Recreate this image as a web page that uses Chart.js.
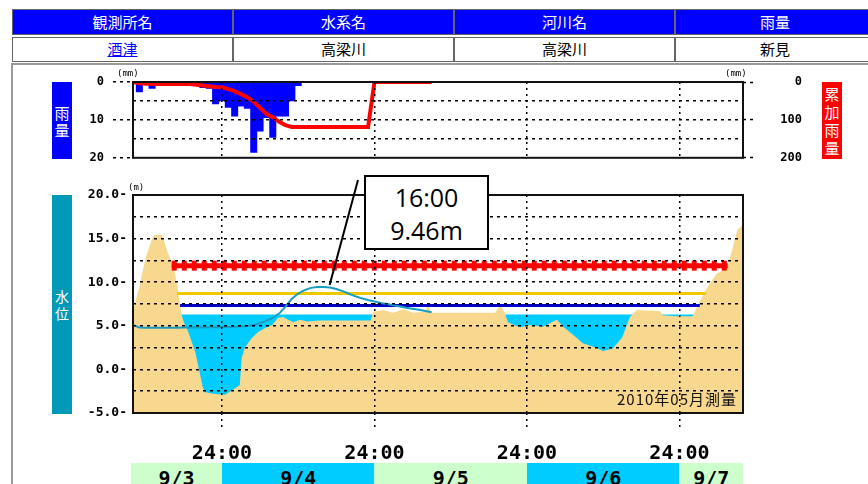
<!DOCTYPE html>
<html lang="ja"><head><meta charset="utf-8">
<script src="https://cdn.jsdelivr.net/npm/chart.js@4.4.1/dist/chart.umd.min.js"></script>
<style>
html,body{margin:0;padding:0;background:#fff}
body{position:relative;width:868px;height:484px;overflow:hidden;font-family:"Noto Sans CJK JP","Noto Sans",sans-serif}
.a{position:absolute;box-sizing:border-box}
.hc{background:#0000ff;color:#fff;border:1px solid #666;font-size:15px;text-align:center;line-height:23px}
.vc{background:#fff;color:#000;border:1px solid #666;font-size:15px;text-align:center;line-height:22px}
.vlab{color:#fff;display:flex;flex-direction:column;align-items:center;justify-content:center;line-height:17px}
canvas{position:absolute;left:0}
.date{position:absolute;top:463px;height:30px;font:bold 20px "DejaVu Sans Mono",monospace;text-align:center;padding-top:3px;box-sizing:border-box;color:#000}
.unit{position:absolute;font:9px "DejaVu Sans Mono",monospace;color:#000}
</style></head><body>
<div class="a" style="left:11px;top:63px;width:880px;height:440px;border-left:2px solid #999;border-top:2px solid #999"></div>
<div class="a hc" style="left:12px;top:9px;width:221px;height:26px">観測所名</div>
<div class="a hc" style="left:233px;top:9px;width:221px;height:26px">水系名</div>
<div class="a hc" style="left:454px;top:9px;width:221px;height:26px">河川名</div>
<div class="a hc" style="left:675px;top:9px;width:200px;height:26px">雨量</div>
<div class="a vc" style="left:12px;top:37px;width:221px;height:25px"><a href="#" style="color:#0000ff;text-decoration:underline">酒津</a></div>
<div class="a vc" style="left:233px;top:37px;width:221px;height:25px">高梁川</div>
<div class="a vc" style="left:454px;top:37px;width:221px;height:25px">高梁川</div>
<div class="a vc" style="left:675px;top:37px;width:200px;height:25px">新見</div>

<div class="a vlab" style="left:52px;top:82px;width:20px;height:77px;background:#0000ff;font-size:15px">雨<br>量</div>
<div class="a vlab" style="left:52px;top:195px;width:20px;height:219px;background:#0099b8;font-size:14px">水<br>位</div>
<div class="a vlab" style="left:822px;top:82px;width:20px;height:77px;background:#ff0000;font-size:15px;line-height:18px">累<br>加<br>雨<br>量</div>

<canvas id="rain" width="868" height="111" style="top:64px"></canvas>
<canvas id="water" width="868" height="318" style="top:166px"></canvas>

<div class="unit" style="left:117px;top:68px">(mm)</div>
<div class="unit" style="left:725px;top:68px">(mm)</div>
<div class="unit" style="left:128px;top:182px">(m)</div>
<div class="a" style="left:560px;top:390px;width:177px;text-align:right;font-size:15px;letter-spacing:1px;color:#111;line-height:18px">2010年05月測量</div>
<div class="a" style="left:364px;top:175px;width:125px;height:75px;border:2px solid #000;background:#fff;text-align:center;font-family:'Open Sans',sans-serif;font-size:25px;line-height:33px;padding-top:4px">16:00<br>9.46m</div>
<div id="dates"></div>

<script>
// ---- data ----
const dayTicks = [14, 38, 62, 86];           // 24:00 positions (hours from 9/3 10:00)
const dayTickLabel = '24:00';
const dateLabels = ['9/3', '9/4', '9/5', '9/6', '9/7'];
const dateBounds = [0, 14, 38, 62, 86, 96];
const dateColors = ['#ccffcc', '#00ccff', '#ccffcc', '#00ccff', '#ccffcc'];

const rainHours  = [1, 3, 10, 11, 12, 13, 14, 15, 16, 17, 18, 19, 20, 21, 22, 23, 24, 25, 26];
const rainValues = [2.6, 1.7, 0.5, 1.5, 1.7, 5.8, 5.0, 6.7, 9.0, 6.4, 7.0, 18.6, 13.0, 9.4, 14.6, 9.0, 9.0, 5.0, 1.0];

const cumHours  = [0, 1, 3, 9, 10, 11, 12, 13, 14, 15, 16, 17, 18, 19, 20, 21, 22, 23, 24, 25, 37, 38, 47];
const cumValues = [0, 3, 5, 5, 7, 9, 11, 13, 14, 19, 24, 32, 40, 52, 68, 84, 93, 105, 114, 119, 119, 0, 0];

const levelHours  = [0,1,2,3,4,5,6,7,8,9,10,11,12,13,14,15,16,17,18,19,20,21,22,23,24,25,26,27,28,29,30,31,32,33,34,35,36,37,38,39,40,41,42,43,44,45,46,47];
const levelValues = [5.10,4.80,4.78,4.78,4.78,4.78,4.78,4.78,4.80,4.80,4.80,4.82,4.82,4.84,4.85,4.86,4.88,4.92,4.98,5.10,5.30,5.60,5.90,6.40,7.20,8.10,8.70,9.10,9.35,9.44,9.46,9.38,9.22,8.98,8.68,8.38,8.15,7.95,7.78,7.62,7.50,7.36,7.22,7.08,6.96,6.84,6.70,6.56];

const sectionX = [0,1.0,2.0,3.0,3.4,4.6,5.4,6.3,7.0,7.6,8.0,8.7,9.8,11.0,11.3,12.6,14.5,15.6,16.8,17.1,17.6,18.7,19.7,20.8,21.9,22.8,23.6,24.4,25.2,26.3,27.4,29.4,32.6,35.7,37.4,37.8,39.3,40.9,42.5,44.1,46.0,46.4,47.0,57.0,57.8,58.5,59.0,60.9,62.5,64.5,66.7,67.7,69.2,70.8,73.0,74.0,75.5,77.0,78.2,79.3,82.9,83.4,85.6,88.1,88.8,89.7,90.8,91.9,93.5,94.4,95.1,96];
const sectionY = [6.7,9.5,12.8,15.0,15.4,15.4,13.5,12.0,9.5,6.4,5.4,4.3,2.0,-2.1,-2.6,-2.8,-2.9,-2.4,-1.8,1.3,2.5,3.6,4.3,4.75,5.1,5.9,6.0,5.7,5.4,5.7,5.5,5.6,5.6,5.6,5.6,6.6,6.8,6.5,6.9,6.5,6.6,7.3,6.5,6.5,7.4,6.5,5.4,4.8,5.1,4.9,5.7,4.9,4.0,3.0,2.45,2.1,2.4,3.7,6.0,6.8,6.7,6.2,6.1,6.1,7.2,8.5,9.9,11.0,11.6,14.0,16.0,16.6];

const surfaceX = [7.3, 88.8];      const surfaceLevel = 6.3;
const dangerX  = [6.1, 93.6];      const dangerLevel  = 11.9;
const warnX    = [6.9, 90.2];      const warnLevel    = 8.7;
const cautionX = [7.4, 89.2];      const cautionLevel = 7.34;

// ---- helpers ----
const pts = (xs, ys) => xs.map((x, i) => ({x, y: ys[i]}));
const flat = (xs, v) => xs.map(x => ({x, y: v}));
const monoBold = size => ({family: '"DejaVu Sans Mono", monospace', size, weight: 'bold'});
const setDayTicks = s => { s.ticks = dayTicks.map(v => ({value: v})); };

const framePlugin = {
  id: 'frame',
  afterDraw(chart) {
    const {ctx, chartArea: a} = chart;
    ctx.save(); ctx.strokeStyle = '#111'; ctx.lineWidth = 2;
    ctx.strokeRect(a.left, a.top, a.right - a.left, a.bottom - a.top);
    ctx.restore();
  }
};

const calloutPlugin = {
  id: 'callout',
  afterDraw(chart) {
    const meta = chart.getDatasetMeta(0);
    let best = 0;
    levelValues.forEach((v, i) => { if (v > levelValues[best]) best = i; });
    const p = meta.data[best];
    const ctx = chart.ctx;
    ctx.save(); ctx.strokeStyle = '#000'; ctx.lineWidth = 2;
    ctx.beginPath(); ctx.moveTo(p.x + 6, p.y - 2); ctx.lineTo(358, 14); ctx.stroke();
    ctx.restore();
  }
};

Chart.defaults.font.family = '"DejaVu Sans Mono", monospace';

new Chart(document.getElementById('rain'), {
  type: 'bar',
  data: {
    datasets: [
      {type: 'line', label: '累加雨量', data: pts(cumHours, cumValues), yAxisID: 'yR',
       borderColor: '#ff0000', borderWidth: 4, pointRadius: 0, tension: 0, order: 0},
      {type: 'bar', label: '雨量', data: pts(rainHours, rainValues), yAxisID: 'yL',
       backgroundColor: '#0000ff', barPercentage: 1, categoryPercentage: 1, order: 1}
    ]
  },
  options: {
    responsive: false, animation: false, devicePixelRatio: 1,
    layout: {padding: {top: 18, bottom: 3, left: 0, right: 66}},
    plugins: {legend: {display: false}, tooltip: {enabled: false}},
    scales: {
      x: {type: 'linear', min: 0, max: 96, offset: false, afterBuildTicks: setDayTicks,
          ticks: {display: false}, grid: {offset: false, color: '#000', lineWidth: 1.5, drawTicks: false, z: 1},
          border: {display: false, dash: [2, 4]}, afterFit: s => { s.height = 0; }},
      yL: {position: 'left', reverse: true, min: 0, max: 20,
           ticks: {stepSize: 5, callback: v => (v % 10 === 0 ? String(v) : ''), font: monoBold(12), color: '#000', padding: 9},
           grid: {color: c => (c.tick && c.tick.value > 0 && c.tick.value < 20 ? '#000' : 'rgba(0,0,0,0)'), lineWidth: 1.5,
                  tickLength: 20, tickColor: c => (c.tick && c.tick.value % 10 === 0 ? '#000' : 'rgba(0,0,0,0)'),
                  tickBorderDash: [3, 4], tickWidth: 1.5, z: 1},
           border: {display: false, dash: [3, 4]}, afterFit: s => { s.width = 133; }},
      yR: {position: 'right', reverse: true, min: 0, max: 200,
           ticks: {stepSize: 100, font: monoBold(12), color: '#000', padding: 10, crossAlign: 'far'},
           grid: {drawOnChartArea: false, tickLength: 12, tickColor: '#000', tickBorderDash: [3, 4], tickWidth: 1.5},
           border: {display: false}, afterFit: s => { s.width = 59; }}
    }
  },
  plugins: [framePlugin]
});

const waterChart = new Chart(document.getElementById('water'), {
  type: 'line',
  data: {
    datasets: [
      {label: '水位', data: pts(levelHours, levelValues), borderColor: '#1a9cc0', borderWidth: 2, pointRadius: 0, tension: 0, order: 0},
      {label: '注意', data: flat(cautionX, cautionLevel), borderColor: '#0000cc', borderWidth: 3, pointRadius: 0, order: 1},
      {label: '警戒', data: flat(warnX, warnLevel), borderColor: '#f0c800', borderWidth: 3, pointRadius: 0, order: 2},
      {label: '危険a', data: flat(dangerX, dangerLevel), borderColor: '#ff0000', borderWidth: 10, borderDash: [5, 5], pointRadius: 0, order: 3},
      {label: '危険b', data: flat(dangerX, dangerLevel), borderColor: '#ff0000', borderWidth: 5, pointRadius: 0, order: 4},
      {label: '断面', data: pts(sectionX, sectionY), borderWidth: 0, borderColor: 'rgba(0,0,0,0)', backgroundColor: '#f8d88e', fill: 'start', pointRadius: 0, tension: 0, order: 5},
      {label: '水面', data: flat(surfaceX, surfaceLevel), borderWidth: 0, borderColor: 'rgba(0,0,0,0)', backgroundColor: '#00ccff', fill: 'start', pointRadius: 0, order: 6}
    ]
  },
  options: {
    responsive: false, animation: false, devicePixelRatio: 1,
    layout: {padding: {top: 29, bottom: 0, left: 0, right: 125}},
    plugins: {legend: {display: false}, tooltip: {enabled: false}},
    scales: {
      x: {type: 'linear', min: 0, max: 96, afterBuildTicks: setDayTicks,
          ticks: {callback: () => dayTickLabel, font: monoBold(20), color: '#000', padding: 15, maxRotation: 0, autoSkip: false},
          grid: {color: '#000', lineWidth: 1.5, tickLength: 14, tickColor: '#000', tickBorderDash: [2, 4], tickWidth: 1.5, z: 1},
          border: {display: false, dash: [2, 4]}, afterFit: s => { s.height = 71; }},
      y: {min: -5, max: 20,
          ticks: {stepSize: 2.5, callback: v => (Math.abs(v % 5) < 1e-9 ? v.toFixed(1) + '-' : ''), font: monoBold(13), color: '#000', padding: 6},
          grid: {color: c => (c.tick && c.tick.value > -5 && c.tick.value < 20 ? '#000' : 'rgba(0,0,0,0)'), lineWidth: 1.5, drawTicks: false, z: 1},
          border: {display: false, dash: [3, 4]}, afterFit: s => { s.width = 133; }}
    }
  },
  plugins: [framePlugin, calloutPlugin]
});

// date bar positioned from the chart's x scale
(function () {
  const xs = waterChart.scales.x;
  const holder = document.getElementById('dates');
  dateLabels.forEach((lab, i) => {
    const l = xs.getPixelForValue(dateBounds[i]) - (i === 0 ? 2 : 0);
    const r = xs.getPixelForValue(dateBounds[i + 1]);
    const d = document.createElement('div');
    d.className = 'date';
    d.style.left = l + 'px';
    d.style.width = (r - l) + 'px';
    d.style.background = dateColors[i];
    d.textContent = lab;
    holder.appendChild(d);
  });
})();
</script>
</body></html>
